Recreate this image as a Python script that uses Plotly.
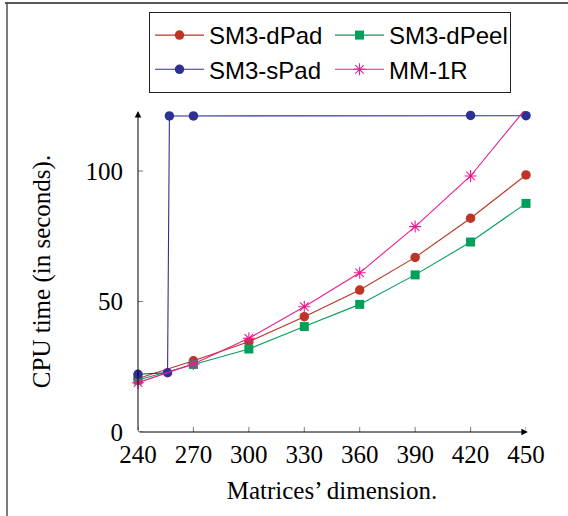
import plotly.graph_objects as go

# ---- data ----
dims = [240, 270, 300, 330, 360, 390, 420, 450]
sm3_dpad = [20.5, 27.3, 34.6, 44.2, 54.4, 66.9, 81.9, 98.5]
sm3_dpeel = [19.9, 25.9, 31.8, 40.4, 48.9, 60.2, 72.8, 87.6]
mm_1r = [18.9, 26.1, 35.9, 48.0, 61.0, 78.7, 98.1, 124.0]
spad_dims = [240, 256, 257, 270, 420, 450]
sm3_spad = [22.1, 22.7, 121.1, 121.1, 121.3, 121.2]

x_ticks = [240, 270, 300, 330, 360, 390, 420, 450]
y_ticks = [0, 50, 100]
x_range = [240, 450]
y_range = [0, 123]

# ---- styles ----
RED = "#BE3424"
GREEN = "#00A05A"
BLUE = "#2E3192"
MAGENTA = "#EC1C8E"

W, H = 568, 516
ML, MR, MT, MB = 138, 42, 111, 84

fig = go.Figure()
fig.add_trace(go.Scatter(x=dims, y=sm3_dpad, name="SM3-dPad", mode="lines+markers",
                         line=dict(color=RED, width=1.1),
                         marker=dict(symbol="circle", size=9.5, color=RED),
                         cliponaxis=False))
fig.add_trace(go.Scatter(x=dims, y=sm3_dpeel, name="SM3-dPeel", mode="lines+markers",
                         line=dict(color=GREEN, width=1.1),
                         marker=dict(symbol="square", size=9, color=GREEN),
                         cliponaxis=False))
fig.add_trace(go.Scatter(x=spad_dims, y=sm3_spad, name="SM3-sPad", mode="lines+markers",
                         line=dict(color=BLUE, width=1.1),
                         marker=dict(symbol="circle", size=9.5, color=BLUE),
                         cliponaxis=False))
fig.add_trace(go.Scatter(x=dims, y=mm_1r, name="MM-1R", mode="lines+markers",
                         line=dict(color=MAGENTA, width=1.1),
                         marker=dict(symbol="asterisk-open", size=10,
                                     line=dict(color=MAGENTA, width=1.1)),
                         cliponaxis=False))

tick_font = dict(family="Liberation Serif", size=25, color="black")

shapes = []
# straddling tick marks
for t in x_ticks:
    shapes.append(dict(type="line", xref="x", yref="y", x0=t, x1=t,
                       ysizemode="pixel", yanchor=0, y0=-5, y1=5,
                       line=dict(color="#555555", width=0.8)))
for t in y_ticks:
    shapes.append(dict(type="line", xref="x", yref="y", y0=t, y1=t,
                       xsizemode="pixel", xanchor=x_range[0], x0=-5, x1=5,
                       line=dict(color="#555555", width=0.8)))

# outer frame (top and left edges)
pw, ph = W - ML - MR, H - MT - MB
def px_x(p):
    return (p - ML) / pw
def px_y(p):
    return (H - MB - p) / ph
shapes.append(dict(type="line", xref="paper", yref="paper",
                   x0=px_x(5), x1=px_x(W + 5), y0=px_y(3), y1=px_y(3),
                   line=dict(color="#222222", width=1.4)))
shapes.append(dict(type="line", xref="paper", yref="paper",
                   x0=px_x(7), x1=px_x(7), y0=px_y(3), y1=px_y(H + 5),
                   line=dict(color="#444444", width=1.4)))

annotations = [
    # x axis with arrow
    dict(x=x_range[1] + 1, y=0, ax=x_range[0], ay=0, xref="x", yref="y",
         axref="x", ayref="y", showarrow=True, arrowhead=2, arrowsize=1.3,
         arrowwidth=1, arrowcolor="black", text=""),
    # y axis with arrow
    dict(x=x_range[0], y=y_range[1], ax=x_range[0], ay=0, xref="x", yref="y",
         axref="x", ayref="y", showarrow=True, arrowhead=2, arrowsize=1.3,
         arrowwidth=1, arrowcolor="black", text=""),
]

fig.update_layout(
    width=W, height=H, autosize=False,
    margin=dict(l=ML, r=MR, t=MT, b=MB),
    plot_bgcolor="white", paper_bgcolor="white",
    showlegend=True,
    legend=dict(orientation="h", x=px_x(149), y=px_y(12), xanchor="left", yanchor="top",
                entrywidth=116, entrywidthmode="pixels",
                font=dict(family="Liberation Sans", size=24, color="black"),
                bordercolor="#222222", borderwidth=1, bgcolor="white",
                tracegroupgap=0, itemwidth=49),
    xaxis=dict(range=x_range, tickvals=x_ticks, ticktext=[str(v) for v in x_ticks],
               showgrid=False, zeroline=False, showline=False, automargin=False,
               ticks="", tickfont=tick_font, ticklabelstandoff=5,
               title=dict(text="Matrices’ dimension.",
                          font=dict(family="Liberation Serif", size=25, color="black"),
                          standoff=14)),
    yaxis=dict(range=y_range, tickvals=y_ticks, ticktext=[str(v) for v in y_ticks],
               showgrid=False, zeroline=False, showline=False, automargin=False,
               ticks="", tickfont=tick_font, ticklabelstandoff=14,
               title=dict(text="CPU time (in seconds).",
                          font=dict(family="Liberation Serif", size=25, color="black"),
                          standoff=27)),
    shapes=shapes,
    annotations=annotations,
)

fig.write_html("out.html", config={"displayModeBar": False},
               post_script="document.body.style.margin='0';")
